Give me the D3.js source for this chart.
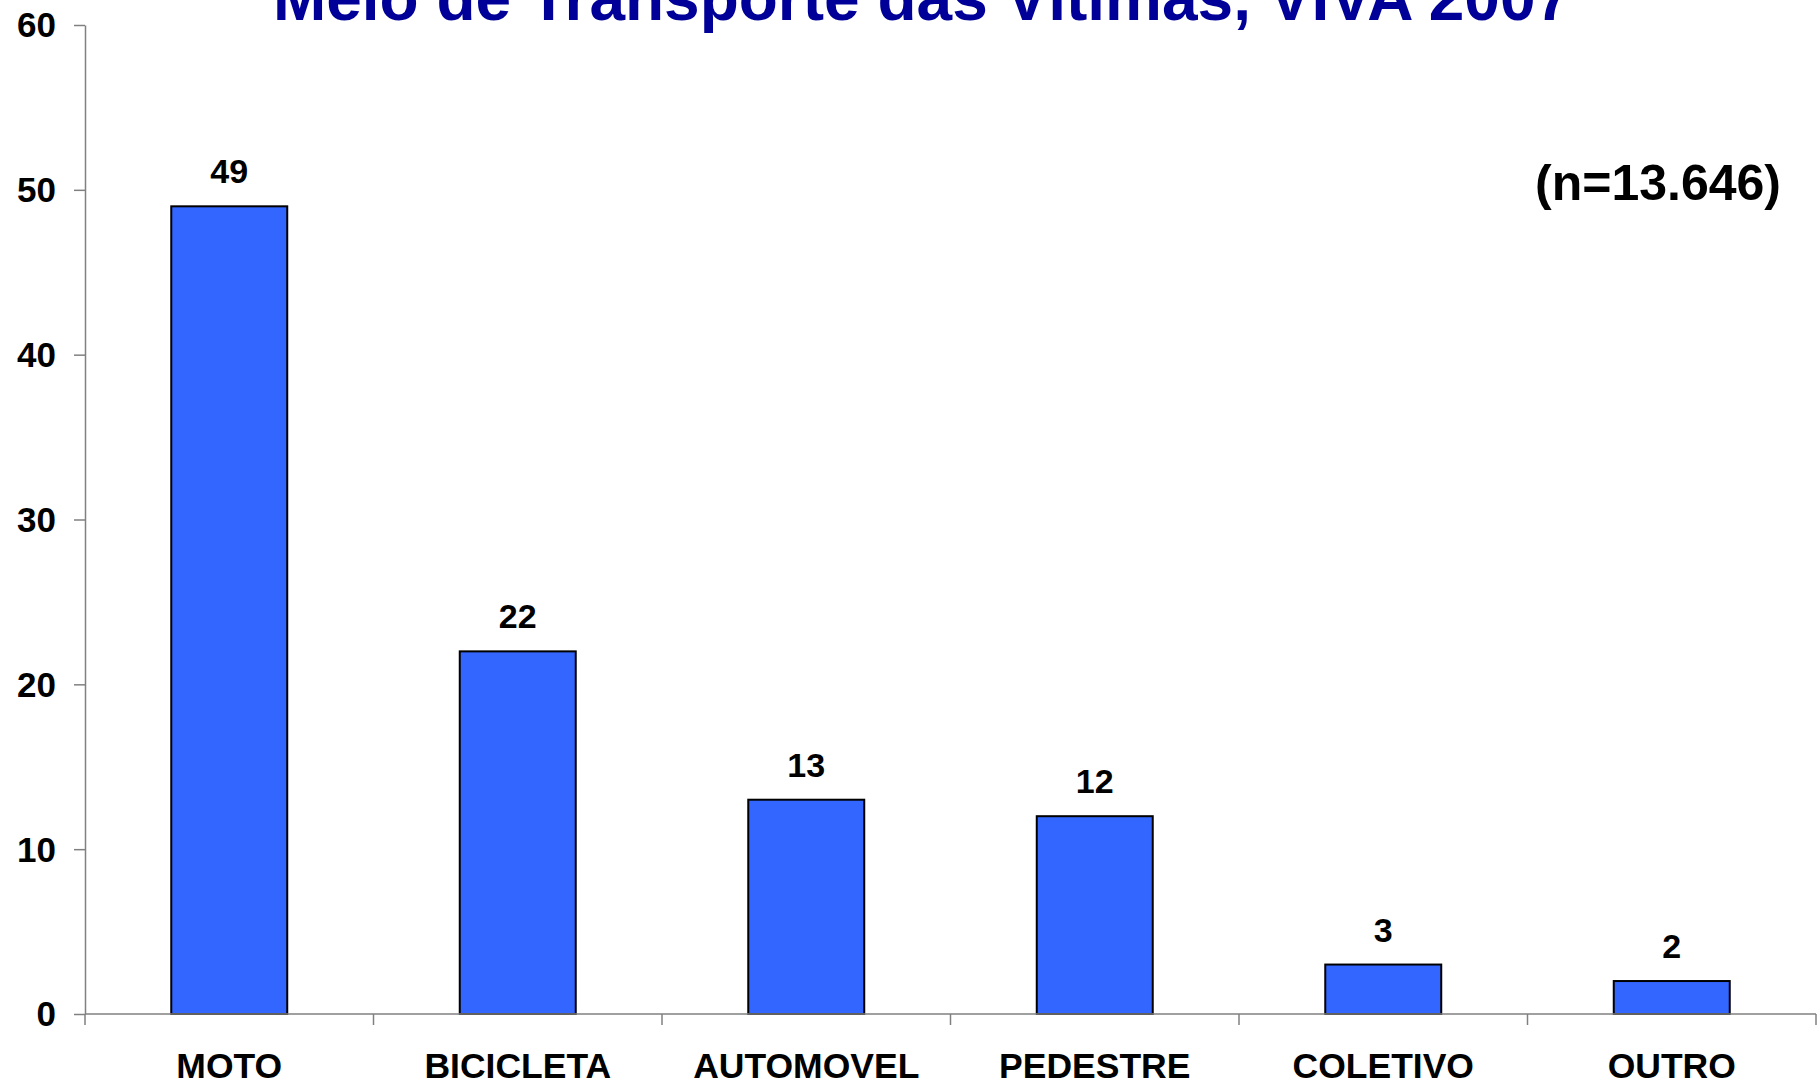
<!DOCTYPE html>
<html>
<head>
<meta charset="utf-8">
<script src="https://cdn.jsdelivr.net/npm/d3@7"></script>
<style>
  html, body { margin: 0; padding: 0; background: #ffffff; }
  svg { display: block; }
  text { font-family: "Liberation Sans", Arial, sans-serif; font-weight: bold; }
</style>
</head>
<body>
<svg id="chart" width="1818" height="1085"></svg>
<script>
const categories = ["MOTO", "BICICLETA", "AUTOMOVEL", "PEDESTRE", "COLETIVO", "OUTRO"];
const values = [49, 22, 13, 12, 3, 2];
const yTicks = [0, 10, 20, 30, 40, 50, 60];
const titleText = "Meio de Transporte das Vítimas, VIVA 2007";
const noteText = "(n=13.646)";

(function () {
const svg = d3.select("#chart");
const plotLeft = 85, plotRight = 1816, plotTop = 25, plotBottom = 1014;

const x = d3.scaleBand().domain(categories).range([plotLeft, plotRight]).padding(0);
const y = d3.scaleLinear().domain([0, 60]).range([plotBottom, plotTop]);
const barW = x.bandwidth() * 0.402;
const axisColor = "#808080";

// Title (clipped at top like the reference)
svg.append("text")
  .attr("x", 922).attr("y", 20)
  .attr("text-anchor", "middle")
  .attr("fill", "#000099")
  .style("font-size", "64px")
  .text(titleText);

// Bars
svg.selectAll("rect.bar").data(values).enter().append("rect")
  .attr("class", "bar")
  .attr("x", (d, i) => x(categories[i]) + x.bandwidth() / 2 - barW / 2)
  .attr("y", d => y(d))
  .attr("width", barW)
  .attr("height", d => y(0) - y(d))
  .attr("fill", "#3366FF")
  .attr("stroke", "#000000")
  .attr("stroke-width", 2);

// Value labels
svg.selectAll("text.val").data(values).enter().append("text")
  .attr("class", "val")
  .attr("x", (d, i) => x(categories[i]) + x.bandwidth() / 2)
  .attr("y", d => y(d) - 23)
  .attr("text-anchor", "middle")
  .attr("fill", "#000")
  .style("font-size", "34px")
  .text(d => d);

// Y axis
const yAxis = d3.axisLeft(y).tickValues(yTicks).tickSize(11).tickSizeOuter(0).tickPadding(18);
const gy = svg.append("g").attr("transform", `translate(${plotLeft},0)`).call(yAxis);
gy.select(".domain").attr("stroke", axisColor).attr("stroke-width", 1.5);
gy.selectAll(".tick line").attr("stroke", axisColor).attr("stroke-width", 1.5);
gy.selectAll(".tick text")
  .attr("fill", "#000")
  .attr("dy", "0.34em")
  .style("font-size", "35px")
  .style("font-family", "'Liberation Sans', Arial, sans-serif")
  .style("font-weight", "bold");

// X axis line
svg.append("line")
  .attr("x1", plotLeft).attr("x2", plotRight)
  .attr("y1", y(0)).attr("y2", y(0))
  .attr("stroke", axisColor).attr("stroke-width", 1.5);

// X category boundary ticks
const boundaries = categories.map(c => x(c)).concat([x(categories[categories.length - 1]) + x.bandwidth()]);
svg.selectAll("line.xt").data(boundaries).enter().append("line")
  .attr("class", "xt")
  .attr("x1", d => d).attr("x2", d => d)
  .attr("y1", y(0)).attr("y2", y(0) + 11)
  .attr("stroke", axisColor).attr("stroke-width", 1.5);

// Category labels
svg.selectAll("text.cat").data(categories).enter().append("text")
  .attr("class", "cat")
  .attr("x", d => x(d) + x.bandwidth() / 2)
  .attr("y", 1078)
  .attr("text-anchor", "middle")
  .attr("fill", "#000")
  .style("font-size", "35.5px")
  .text(d => d);

// Sample size note
svg.append("text")
  .attr("x", 1658).attr("y", 200)
  .attr("text-anchor", "middle")
  .attr("fill", "#000")
  .style("font-size", "50px")
  .text(noteText);
})();
</script>
</body>
</html>
